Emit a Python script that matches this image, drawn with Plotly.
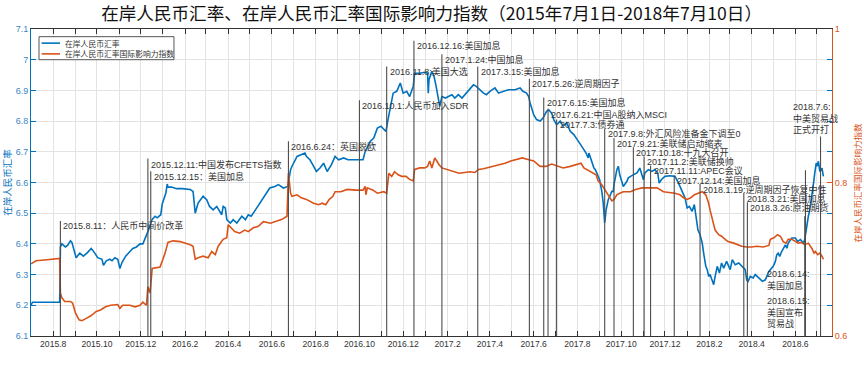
import plotly.graph_objects as go
import pandas as pd

title_text = "在岸人民币汇率、在岸人民币汇率国际影响力指数（2015年7月1日-2018年7月10日）"
rate_name = "在岸人民币汇率"
index_name = "在岸人民币汇率国际影响力指数"

rate_dates = [
    "2015-07-01", "2015-07-03", "2015-08-10", "2015-08-11", "2015-08-13", "2015-08-18", "2015-08-21",
    "2015-08-25", "2015-08-27", "2015-08-31", "2015-09-02", "2015-09-07", "2015-09-12", "2015-09-17",
    "2015-09-23", "2015-09-28", "2015-10-02", "2015-10-08", "2015-10-10", "2015-10-14", "2015-10-19",
    "2015-10-22", "2015-10-26", "2015-10-30", "2015-11-02", "2015-11-05", "2015-11-10", "2015-11-16",
    "2015-11-20", "2015-11-25", "2015-11-30", "2015-12-04", "2015-12-08", "2015-12-11", "2015-12-14",
    "2015-12-17", "2015-12-21", "2015-12-24", "2015-12-29", "2015-12-31", "2016-01-05", "2016-01-07",
    "2016-01-08", "2016-01-13", "2016-01-20", "2016-01-28", "2016-02-08", "2016-02-12", "2016-02-15",
    "2016-02-19", "2016-02-26", "2016-03-02", "2016-03-06", "2016-03-11", "2016-03-16", "2016-03-23",
    "2016-03-25", "2016-03-28", "2016-03-30", "2016-04-04", "2016-04-08", "2016-04-13", "2016-04-20",
    "2016-04-25", "2016-04-29", "2016-05-03", "2016-05-09", "2016-05-15", "2016-05-22", "2016-05-29",
    "2016-06-05", "2016-06-10", "2016-06-17", "2016-06-23", "2016-06-27", "2016-06-29", "2016-07-06",
    "2016-07-12", "2016-07-17", "2016-07-19", "2016-07-24", "2016-07-29", "2016-08-02", "2016-08-07",
    "2016-08-12", "2016-08-17", "2016-08-23", "2016-08-28", "2016-09-02", "2016-09-09", "2016-09-15",
    "2016-10-06", "2016-10-09", "2016-10-14", "2016-10-16", "2016-10-21", "2016-10-26", "2016-10-31",
    "2016-11-04", "2016-11-07", "2016-11-09", "2016-11-13", "2016-11-17", "2016-11-22", "2016-11-27",
    "2016-12-01", "2016-12-06", "2016-12-10", "2016-12-15", "2016-12-17", "2016-12-24", "2016-12-31",
    "2017-01-04", "2017-01-05", "2017-01-06", "2017-01-10", "2017-01-13", "2017-01-16", "2017-01-18",
    "2017-01-21", "2017-01-24", "2017-01-29", "2017-02-02", "2017-02-07", "2017-02-11", "2017-02-16",
    "2017-02-21", "2017-02-25", "2017-03-02", "2017-03-09", "2017-03-13", "2017-03-18", "2017-03-23",
    "2017-03-27", "2017-04-01", "2017-04-08", "2017-04-13", "2017-04-20", "2017-04-27", "2017-05-06",
    "2017-05-13", "2017-05-17", "2017-05-22", "2017-05-25", "2017-05-27", "2017-06-01", "2017-06-05",
    "2017-06-10", "2017-06-14", "2017-06-19", "2017-06-22", "2017-06-26", "2017-06-29", "2017-07-03",
    "2017-07-08", "2017-07-12", "2017-07-17", "2017-07-22", "2017-07-27", "2017-08-01", "2017-08-05",
    "2017-08-10", "2017-08-13", "2017-08-16", "2017-08-17", "2017-08-19", "2017-08-21", "2017-08-24",
    "2017-08-26", "2017-08-29", "2017-09-01", "2017-09-04", "2017-09-06", "2017-09-08", "2017-09-10",
    "2017-09-13", "2017-09-15", "2017-09-18", "2017-09-20", "2017-09-21", "2017-09-25", "2017-09-27",
    "2017-09-29", "2017-10-04", "2017-10-09", "2017-10-11", "2017-10-14", "2017-10-18", "2017-10-23",
    "2017-10-27", "2017-10-30", "2017-11-01", "2017-11-03", "2017-11-08", "2017-11-13", "2017-11-17",
    "2017-11-21", "2017-11-23", "2017-11-26", "2017-12-01", "2017-12-08", "2017-12-15", "2017-12-20",
    "2017-12-25", "2017-12-29", "2018-01-01", "2018-01-04", "2018-01-08", "2018-01-11", "2018-01-14",
    "2018-01-16", "2018-01-19", "2018-01-22", "2018-01-24", "2018-01-27", "2018-01-29", "2018-01-31",
    "2018-02-02", "2018-02-05", "2018-02-07", "2018-02-09", "2018-02-12", "2018-02-15", "2018-02-18",
    "2018-02-21", "2018-02-25", "2018-02-28", "2018-03-02", "2018-03-05", "2018-03-09", "2018-03-14",
    "2018-03-18", "2018-03-23", "2018-03-25", "2018-03-27", "2018-03-30", "2018-04-03", "2018-04-06",
    "2018-04-11", "2018-04-16", "2018-04-20", "2018-04-25", "2018-05-01", "2018-05-04", "2018-05-06",
    "2018-05-08", "2018-05-10", "2018-05-13", "2018-05-18", "2018-05-20", "2018-05-22", "2018-05-25",
    "2018-05-27", "2018-06-01", "2018-06-04", "2018-06-08", "2018-06-12", "2018-06-14", "2018-06-17",
    "2018-06-19", "2018-06-21", "2018-06-24", "2018-06-26", "2018-06-28", "2018-06-30", "2018-07-01",
    "2018-07-03", "2018-07-05", "2018-07-08", "2018-07-10",
]
rate_values = [
    6.20, 6.21, 6.21, 6.39, 6.40, 6.39, 6.395,
    6.41, 6.405, 6.37, 6.355, 6.37, 6.36, 6.37,
    6.385, 6.37, 6.355, 6.35, 6.33, 6.345, 6.35,
    6.345, 6.355, 6.35, 6.32, 6.34, 6.36, 6.375,
    6.385, 6.39, 6.40, 6.40, 6.42, 6.44, 6.46,
    6.48, 6.49, 6.485, 6.495, 6.53, 6.565, 6.595,
    6.585, 6.585, 6.58, 6.58, 6.577, 6.571, 6.50,
    6.533, 6.555, 6.544, 6.522, 6.511, 6.522, 6.495,
    6.522, 6.517, 6.479, 6.468, 6.479, 6.468, 6.49,
    6.479, 6.495, 6.49, 6.511, 6.533, 6.555, 6.582,
    6.587, 6.593, 6.582, 6.587, 6.642, 6.653, 6.685,
    6.69, 6.696, 6.685, 6.674, 6.653, 6.636, 6.647,
    6.663, 6.636, 6.658, 6.685, 6.674, 6.68, 6.674,
    6.674, 6.701, 6.723, 6.734, 6.745, 6.777, 6.783,
    6.772, 6.766, 6.794, 6.837, 6.891, 6.897, 6.924,
    6.891, 6.897, 6.88, 6.913, 6.956, 6.956, 6.959,
    6.956, 6.891, 6.935, 6.962, 6.946, 6.913, 6.88,
    6.848, 6.88, 6.875, 6.88, 6.886, 6.875, 6.886,
    6.875, 6.886, 6.897, 6.918, 6.913, 6.902, 6.891,
    6.886, 6.897, 6.908, 6.891, 6.897, 6.902, 6.902,
    6.908, 6.897, 6.891, 6.88, 6.859, 6.821, 6.805,
    6.80, 6.81, 6.832, 6.837, 6.826, 6.805, 6.788,
    6.80, 6.783, 6.794, 6.767, 6.756, 6.739, 6.723,
    6.707, 6.696, 6.68, 6.696, 6.68, 6.663, 6.647,
    6.642, 6.625, 6.609, 6.571, 6.533, 6.468, 6.511,
    6.544, 6.555, 6.571, 6.571, 6.593, 6.642, 6.653,
    6.625, 6.587, 6.604, 6.615, 6.62, 6.625, 6.631,
    6.647, 6.625, 6.609, 6.631, 6.642, 6.636, 6.642,
    6.631, 6.598, 6.609, 6.62, 6.622, 6.62, 6.598,
    6.571, 6.55, 6.517, 6.522, 6.506, 6.528, 6.479,
    6.446, 6.43, 6.403, 6.37, 6.327, 6.316, 6.294,
    6.30, 6.278, 6.267, 6.294, 6.327, 6.305, 6.338,
    6.321, 6.343, 6.327, 6.316, 6.349, 6.332, 6.338,
    6.327, 6.316, 6.283, 6.278, 6.294, 6.289, 6.30,
    6.289, 6.278, 6.283, 6.31, 6.327, 6.343, 6.365,
    6.37, 6.359, 6.376, 6.397, 6.386, 6.403, 6.414,
    6.419, 6.419, 6.408, 6.414, 6.403, 6.414, 6.468,
    6.49, 6.511, 6.555, 6.593, 6.631, 6.663, 6.653,
    6.669, 6.636, 6.647, 6.62,
]

index_dates = [
    "2015-07-01", "2015-07-08", "2015-07-20", "2015-08-10", "2015-08-11", "2015-08-13", "2015-08-17",
    "2015-08-25", "2015-08-28", "2015-09-01", "2015-09-06", "2015-09-10", "2015-09-16", "2015-09-22",
    "2015-09-30", "2015-10-06", "2015-10-13", "2015-10-20", "2015-10-30", "2015-11-02", "2015-11-06",
    "2015-11-16", "2015-11-23", "2015-11-30", "2015-12-04", "2015-12-09", "2015-12-11", "2015-12-14",
    "2015-12-17", "2015-12-22", "2015-12-28", "2016-01-04", "2016-01-08", "2016-01-15", "2016-01-25",
    "2016-02-08", "2016-02-12", "2016-02-15", "2016-02-19", "2016-02-26", "2016-03-04", "2016-03-09",
    "2016-03-14", "2016-03-18", "2016-03-25", "2016-03-30", "2016-04-01", "2016-04-05", "2016-04-10",
    "2016-04-17", "2016-04-24", "2016-04-29", "2016-05-06", "2016-05-13", "2016-05-20", "2016-05-30",
    "2016-06-07", "2016-06-15", "2016-06-22", "2016-06-24", "2016-06-27", "2016-06-29", "2016-07-06",
    "2016-07-12", "2016-07-19", "2016-07-29", "2016-08-05", "2016-08-10", "2016-08-15", "2016-08-20",
    "2016-08-25", "2016-08-28", "2016-09-05", "2016-09-14", "2016-09-25", "2016-10-06", "2016-10-09",
    "2016-10-10", "2016-10-12", "2016-10-20", "2016-10-26", "2016-11-04", "2016-11-08", "2016-11-11",
    "2016-11-15", "2016-11-19", "2016-11-24", "2016-11-29", "2016-12-05", "2016-12-10", "2016-12-15",
    "2016-12-17", "2016-12-24", "2016-12-31", "2017-01-04", "2017-01-07", "2017-01-10", "2017-01-14",
    "2017-01-17", "2017-01-20", "2017-01-24", "2017-01-31", "2017-02-08", "2017-02-17", "2017-02-25",
    "2017-03-04", "2017-03-11", "2017-03-16", "2017-03-23", "2017-04-01", "2017-04-10", "2017-04-22",
    "2017-04-30", "2017-05-08", "2017-05-16", "2017-05-24", "2017-06-01", "2017-06-10", "2017-06-18",
    "2017-06-26", "2017-07-03", "2017-07-12", "2017-07-22", "2017-08-01", "2017-08-06", "2017-08-10",
    "2017-08-19", "2017-08-27", "2017-08-30", "2017-09-04", "2017-09-08", "2017-09-13", "2017-09-18",
    "2017-09-21", "2017-09-25", "2017-09-29", "2017-10-04", "2017-10-14", "2017-10-21", "2017-10-30",
    "2017-11-11", "2017-11-20", "2017-11-29", "2017-12-08", "2017-12-15", "2017-12-22", "2017-12-27",
    "2018-01-01", "2018-01-06", "2018-01-11", "2018-01-17", "2018-01-22", "2018-01-27", "2018-01-31",
    "2018-02-02", "2018-02-05", "2018-02-09", "2018-02-14", "2018-02-18", "2018-02-23", "2018-02-27",
    "2018-03-07", "2018-03-13", "2018-03-18", "2018-03-25", "2018-04-01", "2018-04-08", "2018-04-17",
    "2018-04-25", "2018-04-27", "2018-05-02", "2018-05-07", "2018-05-11", "2018-05-15", "2018-05-19",
    "2018-05-22", "2018-05-27", "2018-06-01", "2018-06-05", "2018-06-09", "2018-06-14", "2018-06-19",
    "2018-06-24", "2018-06-27", "2018-06-29", "2018-07-02", "2018-07-05", "2018-07-08", "2018-07-10",
]
index_values = [
    0.694, 0.698, 0.699, 0.701, 0.656, 0.650, 0.645,
    0.645, 0.643, 0.630, 0.621, 0.620, 0.623, 0.626,
    0.632, 0.634, 0.638, 0.640, 0.641, 0.636, 0.640,
    0.640, 0.638, 0.640, 0.644, 0.640, 0.664, 0.656,
    0.688, 0.689, 0.690, 0.708, 0.722, 0.724, 0.723,
    0.719, 0.717, 0.700, 0.702, 0.704, 0.702, 0.710,
    0.706, 0.717, 0.726, 0.728, 0.745, 0.741, 0.736,
    0.734, 0.738, 0.736, 0.741, 0.743, 0.749, 0.747,
    0.749, 0.752, 0.756, 0.812, 0.786, 0.782, 0.784,
    0.780, 0.778, 0.773, 0.771, 0.773, 0.771, 0.778,
    0.782, 0.788, 0.788, 0.791, 0.790, 0.790, 0.795,
    0.784, 0.793, 0.790, 0.786, 0.788, 0.786, 0.812,
    0.808, 0.814, 0.810, 0.808, 0.808, 0.804, 0.802,
    0.817, 0.819, 0.819, 0.821, 0.828, 0.819, 0.832,
    0.828, 0.823, 0.819, 0.817, 0.814, 0.812, 0.813,
    0.814, 0.813, 0.817, 0.818, 0.820, 0.822, 0.825,
    0.828, 0.830, 0.832, 0.830, 0.828, 0.821, 0.821,
    0.824, 0.822, 0.819, 0.821, 0.824, 0.825, 0.819,
    0.814, 0.810, 0.802, 0.797, 0.791, 0.784, 0.776,
    0.778, 0.784, 0.786, 0.788, 0.788, 0.791, 0.793,
    0.793, 0.793, 0.788, 0.787, 0.786, 0.784, 0.780,
    0.778, 0.780, 0.784, 0.786, 0.788, 0.784, 0.773,
    0.764, 0.754, 0.738, 0.732, 0.730, 0.726, 0.723,
    0.721, 0.719, 0.717, 0.716, 0.716, 0.717, 0.716,
    0.718, 0.726, 0.728, 0.732, 0.730, 0.723, 0.721,
    0.726, 0.726, 0.723, 0.721, 0.722, 0.719, 0.721,
    0.714, 0.708, 0.710, 0.706, 0.708, 0.704, 0.700,
]

event_dates = [
    "2015-08-11", "2015-12-11", "2015-12-15", "2016-06-24", "2016-10-01", "2016-11-08",
    "2016-12-16", "2017-01-24", "2017-03-15", "2017-05-26", "2017-06-15", "2017-06-21",
    "2017-07-03", "2017-09-08", "2017-09-21", "2017-10-18", "2017-11-02", "2017-11-11",
    "2017-12-14", "2018-01-19", "2018-03-21", "2018-03-26", "2018-06-14", "2018-06-15",
    "2018-07-06",
]
event_labels = [
    "2015.8.11：人民币中间价改革", "2015.12.11:中国发布CFETS指数", "2015.12.15：美国加息",
    "2016.6.24：英国脱欧", "2016.10.1:人民币加入SDR", "2016.11.8:美国大选",
    "2016.12.16:美国加息", "2017.1.24:中国加息", "2017.3.15:美国加息",
    "2017.5.26:逆周期因子", "2017.6.15:美国加息", "2017.6.21:中国A股纳入MSCI",
    "2017.7.3:债券通", "2017.9.8:外汇风险准备金下调至0", "2017.9.21:美联储启动缩表",
    "2017.10.18:十九大召开", "2017.11.2:美联储换帅", "2017.11.11:APEC会议",
    "2017.12.14:美国加息", "2018.1.19:逆周期因子恢复中性", "2018.3.21:美国加息",
    "2018.3.26:原油期货", "2018.6.14:<br>美国加息", "2018.6.15:<br>美国宣布<br>贸易战",
    "2018.7.6:<br>中美贸易战<br>正式开打",
]

# ---- placement of event labels (paper coordinates) ----
label_y = [0.359, 0.560, 0.520, 0.617, 0.750, 0.860, 0.946, 0.902, 0.860, 0.821, 0.760, 0.723,
           0.688, 0.659, 0.628, 0.598, 0.568, 0.538, 0.506, 0.478, 0.449, 0.419, 0.184, 0.078, 0.707]
line_top = [0.375, 0.578, 0.537, 0.634, 0.768, 0.878, 0.962, 0.918, 0.878, 0.838, 0.777, 0.740,
            0.705, 0.676, 0.645, 0.615, 0.585, 0.555, 0.523, 0.495, 0.466, 0.436, 0.390, 0.540, 0.650]
label_xshift = [1] * 22 + [-40, -40, -30]

BLUE = "#0072BD"
ORANGE = "#D95319"
EVT = "#4d4d4d"
FONT = "Liberation Sans, Arial, Noto Sans CJK SC, sans-serif"
CJK = "Noto Sans CJK SC, sans-serif"

fig = go.Figure()
fig.add_trace(go.Scatter(x=pd.to_datetime(rate_dates), y=rate_values, mode="lines", name=rate_name,
                         line=dict(color=BLUE, width=1.6), yaxis="y", showlegend=False))
fig.add_trace(go.Scatter(x=pd.to_datetime(index_dates), y=index_values, mode="lines", name=index_name,
                         line=dict(color=ORANGE, width=1.6), yaxis="y2", showlegend=False))

shapes = []
annotations = []
for d, lab, ly, lt, xs in zip(event_dates, event_labels, label_y, line_top, label_xshift):
    shapes.append(dict(type="line", xref="x", yref="paper", x0=d, x1=d, y0=0, y1=lt,
                       line=dict(color=EVT, width=1.1), layer="above"))
    annotations.append(dict(x=d, y=ly, xref="x", yref="paper", text=lab, showarrow=False,
                            xanchor="left", yanchor="middle", xshift=xs, align="left",
                            font=dict(size=9, color="#333333", family=FONT)))

# compact legend box (top-left, inside the axes)
shapes.append(dict(type="rect", xref="paper", yref="paper", x0=0.010, x1=0.1785, y0=0.900, y1=0.975,
                   line=dict(color="#555555", width=1), fillcolor="white", layer="above"))
for name, color, yy in [(rate_name, BLUE, 0.954), (index_name, ORANGE, 0.919)]:
    shapes.append(dict(type="line", xref="paper", yref="paper", x0=0.0133, x1=0.0362, y0=yy, y1=yy,
                       line=dict(color=color, width=1.6), layer="above"))
    annotations.append(dict(text=name, x=0.0400, y=yy, xref="paper", yref="paper", showarrow=False,
                            xanchor="left", yanchor="middle",
                            font=dict(size=7.8, color="#333333", family=CJK)))

annotations.append(dict(text=rate_name, x=-0.031, y=0.5, xref="paper", yref="paper", showarrow=False,
                        textangle=-90, font=dict(size=9.5, color=BLUE, family=CJK),
                        xanchor="center", yanchor="middle"))
annotations.append(dict(text=index_name, x=1.030, y=0.5, xref="paper", yref="paper", showarrow=False,
                        textangle=-90, font=dict(size=8.5, color=ORANGE, family=CJK),
                        xanchor="center", yanchor="middle"))

months = pd.date_range("2015-07-01", "2018-07-01", freq="MS")
tick_text = [f"{m.year}.{m.month}" if m.month % 2 == 0 else "" for m in months]

left_ticks = [6.1, 6.2, 6.3, 6.4, 6.5, 6.6, 6.7, 6.8, 6.9, 7.0, 7.1]
left_text = ["6.1", "6.2", "6.3", "6.4", "6.5", "6.6", "6.7", "6.8", "6.9", "7", "7.1"]

fig.update_layout(
    width=864, height=378,
    margin=dict(l=31, r=32, t=29, b=42, autoexpand=False),
    paper_bgcolor="white", plot_bgcolor="white",
    font=dict(family=FONT, size=9, color="#333333"),
    title=dict(text=title_text, x=0.4995, xanchor="center", y=0.963, yanchor="middle",
               font=dict(size=17.6, color="#111111", family=CJK)),
    showlegend=False,
    xaxis=dict(type="date", range=["2015-07-01", "2018-07-22"], tickmode="array",
               tickvals=months, ticktext=tick_text, ticks="inside", ticklen=5, tickcolor="#333333",
               showgrid=True, gridcolor="#e3e3e3", gridwidth=1, showline=True, linecolor="#333333",
               mirror="ticks", zeroline=False, automargin=False,
               tickfont=dict(size=8.6, color="#333333")),
    yaxis=dict(range=[6.1, 7.1], tickmode="array", tickvals=left_ticks, ticktext=left_text,
               ticks="inside", ticklen=5, tickcolor=BLUE, showgrid=True, gridcolor="#e3e3e3",
               showline=True, linecolor=BLUE, mirror="ticks", zeroline=False, automargin=False,
               tickfont=dict(size=9, color="#3a86c0")),
    yaxis2=dict(range=[0.6, 1.0], overlaying="y", side="right", tickmode="array",
                tickvals=[0.6, 0.8, 1.0], ticktext=["0.6", "0.8", "1"], ticks="inside", ticklen=5,
                tickcolor=ORANGE, showgrid=False, showline=True, linecolor=ORANGE, zeroline=False,
                automargin=False, tickfont=dict(size=9, color=ORANGE)),
    shapes=shapes,
    annotations=annotations,
)

fig.write_html("out.html", config={"displayModeBar": False},
               post_script="document.body.style.margin='0px';document.body.style.padding='0px';")
